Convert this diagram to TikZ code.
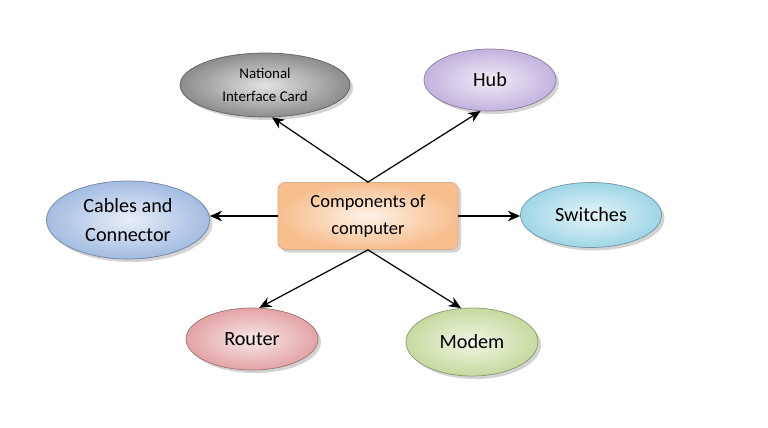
\documentclass[tikz,border=0pt]{standalone}
\usepackage{fontspec}
\setmainfont{Carlito}
\usetikzlibrary{shapes.geometric,shadows,arrows.meta}

\tikzset{
  part/.style={ellipse,draw=#1!70!black,line width=0.4pt,inner sep=0pt,
    shading=radial,outer color=#1,inner color=#1!25!white,
    drop shadow={opacity=0.35,shadow xshift=0.06cm,shadow yshift=-0.06cm},
    align=center,font=\fontsize{11.5}{16}\selectfont},
  link/.style={-{Stealth[length=7pt,width=6pt]},line width=0.7pt}
}
\definecolor{niccol}{HTML}{8C8C8C}
\definecolor{hubcol}{HTML}{C3B3DE}
\definecolor{cabcol}{HTML}{A3BCE2}
\definecolor{swicol}{HTML}{9FD6E6}
\definecolor{roucol}{HTML}{E3A3A6}
\definecolor{modcol}{HTML}{C6DA9E}
\definecolor{boxcol}{HTML}{F7BE8E}

\begin{document}
\begin{tikzpicture}

  \useasboundingbox (0,0) rectangle (15.36,8.54);

  \node (comp) at (7.36, 4.22) [rectangle,rounded corners=4pt,draw=boxcol!90!black,
    minimum width=3.6cm,minimum height=1.34cm,shading=radial,
    outer color=boxcol,inner color=boxcol!20!white,align=center,
    drop shadow={opacity=0.35,shadow xshift=0.06cm,shadow yshift=-0.06cm},
    font=\fontsize{10.5}{15}\selectfont] {Components of\\computer};

  \node (nic) at (5.30, 6.84) [part=niccol,minimum width=3.4cm,minimum height=1.28cm,
    font=\fontsize{8.5}{13}\selectfont] {National\\Interface Card};
  \node (hub) at (9.80, 6.94) [part=hubcol,minimum width=2.64cm,minimum height=1.24cm] {Hub};
  \node (cab) at (2.56, 4.14) [part=cabcol,minimum width=3.26cm,minimum height=1.56cm] {Cables and\\Connector};
  \node (swi) at (11.82, 4.24) [part=swicol,minimum width=2.82cm,minimum height=1.3cm] {Switches};
  \node (rou) at (5.04, 1.76) [part=roucol,minimum width=2.64cm,minimum height=1.24cm] {Router};
  \node (mod) at (9.44, 1.70) [part=modcol,minimum width=2.64cm,minimum height=1.36cm] {Modem};

  \draw[link] (comp.north) -- (nic.282);
  \draw[link] (comp.north) -- (hub.253);
  \draw[link] (comp.west) -- (cab.east |- comp.west);
  \draw[link] (comp.east) -- (swi.west |- comp.east);
  \draw[link] (comp.south) -- (rou.77);
  \draw[link] (comp.south) -- (mod.108);

\end{tikzpicture}
\end{document}
